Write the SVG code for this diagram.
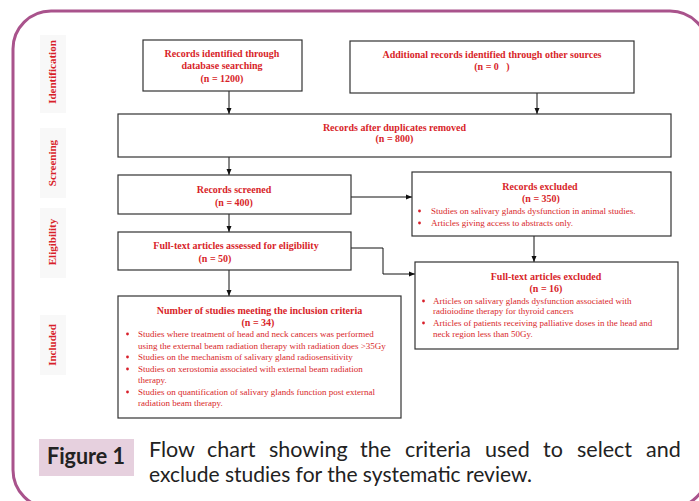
<svg xmlns="http://www.w3.org/2000/svg" width="699" height="501" viewBox="0 0 699 501">
<defs>
<marker id="ah" markerWidth="6" markerHeight="6" refX="6" refY="3" orient="auto" markerUnits="userSpaceOnUse">
<path d="M0,0.5 L6,3 L0,5.5 z" fill="#111"/>
</marker>
<style>
.box{fill:#fff;stroke:#333;stroke-width:1.2}
.t{font-family:"Liberation Serif","Times New Roman",serif;font-weight:bold;font-size:10px;fill:#d81f2a;text-anchor:middle}
.b{font-family:"Liberation Serif","Times New Roman",serif;font-size:9px;fill:#d81f2a}
.side{font-family:"Liberation Serif","Times New Roman",serif;font-weight:bold;font-size:11px;fill:#d81f2a;text-anchor:middle}
.sbg{fill:#f8f8f8}
.dot{fill:#d81f2a}
.c{stroke:#111;stroke-width:1;fill:none}
.cap{font-family:Lato,"Liberation Sans",Arial,sans-serif;font-size:21.5px;fill:#222}
</style>
</defs>
<rect width="699" height="501" fill="#fff"/>
<rect x="13" y="11" width="695" height="497" rx="38" ry="38" fill="none" stroke="#a9538c" stroke-width="3"/>

<g id="side-labels">
<rect class="sbg" x="40" y="35" width="26" height="78"/>
<text class="side" transform="translate(56,72) rotate(-90)">Identification</text>
<rect class="sbg" x="40" y="128" width="26" height="70"/>
<text class="side" transform="translate(56,163) rotate(-90)">Screening</text>
<rect class="sbg" x="40" y="208" width="26" height="70"/>
<text class="side" transform="translate(56,242) rotate(-90)">Eligibility</text>
<rect class="sbg" x="40" y="315" width="26" height="60"/>
<text class="side" transform="translate(56,345) rotate(-90)">Included</text>
</g>

<g id="connectors">
<line class="c" x1="229" y1="91" x2="229" y2="114" marker-end="url(#ah)"/>
<line class="c" x1="537" y1="93" x2="537" y2="114" marker-end="url(#ah)"/>
<line class="c" x1="229" y1="157" x2="229" y2="175" marker-end="url(#ah)"/>
<line class="c" x1="229" y1="214" x2="229" y2="232" marker-end="url(#ah)"/>
<line class="c" x1="351" y1="197" x2="412" y2="197" marker-end="url(#ah)"/>
<line class="c" x1="534" y1="236" x2="534" y2="262" marker-end="url(#ah)"/>
<polyline class="c" points="351,248 383,248 383,274 415,274" marker-end="url(#ah)"/>
<line class="c" x1="229" y1="270" x2="229" y2="296" marker-end="url(#ah)"/>
</g>

<g id="n1">
<rect class="box" x="143" y="40" width="159" height="51"/>
<text class="t" x="222" y="56.5">Records identified through</text>
<text class="t" x="222" y="69">database searching</text>
<text class="t" x="222" y="81.5">(n = 1200)</text>
</g>
<g id="n2">
<rect class="box" x="350" y="41" width="284" height="52"/>
<text class="t" x="492" y="57.5">Additional records identified through other sources</text>
<text class="t" x="492" y="69.5" style="white-space:pre">(n = 0   )</text>
</g>
<g id="n3">
<rect class="box" x="118" y="114" width="553" height="43"/>
<text class="t" x="394.5" y="130.5">Records after duplicates removed</text>
<text class="t" x="394.5" y="141.5">(n = 800)</text>
</g>
<g id="n4">
<rect class="box" x="118" y="175" width="233" height="39"/>
<text class="t" x="234" y="192.5">Records screened</text>
<text class="t" x="234" y="205.5">(n = 400)</text>
</g>
<g id="n5">
<rect class="box" x="118" y="232" width="233" height="38"/>
<text class="t" x="236" y="248.5">Full-text articles assessed for eligibility</text>
<text class="t" x="215" y="261.5">(n = 50)</text>
</g>
<g id="n6">
<rect class="box" x="412" y="172" width="259" height="64"/>
<text class="t" x="540" y="189.5">Records excluded</text>
<text class="t" x="541" y="201.5">(n = 350)</text>
<circle class="dot" cx="419.5" cy="211" r="1.4"/>
<text class="b" x="431" y="214">Studies on salivary glands dysfunction in animal studies.</text>
<circle class="dot" cx="419.5" cy="223" r="1.4"/>
<text class="b" x="431" y="226">Articles giving access to abstracts only.</text>
</g>
<g id="n7">
<rect class="box" x="415" y="262" width="263" height="87"/>
<text class="t" x="546" y="279.5">Full-text articles excluded</text>
<text class="t" x="546" y="291.5">(n = 16)</text>
<circle class="dot" cx="423.5" cy="301" r="1.4"/>
<text class="b" x="433" y="304">Articles on salivary glands dysfunction associated with</text>
<text class="b" x="433" y="314">radioiodine therapy for thyroid cancers</text>
<circle class="dot" cx="423.5" cy="323" r="1.4"/>
<text class="b" x="433" y="326">Articles of patients receiving palliative doses in the head and</text>
<text class="b" x="433" y="337">neck region less than 50Gy.</text>
</g>
<g id="n8">
<rect class="box" x="118" y="296" width="283" height="122"/>
<text class="t" x="259.5" y="313.5">Number of studies meeting the inclusion criteria</text>
<text class="t" x="258" y="325.5">(n = 34)</text>
<circle class="dot" cx="127.5" cy="334" r="1.4"/>
<text class="b" x="138" y="337">Studies where treatment of head and neck cancers was performed</text>
<text class="b" x="138" y="349">using the external beam radiation therapy with radiation does &gt;35Gy</text>
<circle class="dot" cx="127.5" cy="357" r="1.4"/>
<text class="b" x="138" y="360">Studies on the mechanism of salivary gland radiosensitivity</text>
<circle class="dot" cx="127.5" cy="369" r="1.4"/>
<text class="b" x="138" y="372">Studies on xerostomia associated with external beam radiation</text>
<text class="b" x="138" y="383">therapy.</text>
<circle class="dot" cx="127.5" cy="392" r="1.4"/>
<text class="b" x="138" y="395">Studies on quantification of salivary glands function post external</text>
<text class="b" x="138" y="406">radiation beam therapy.</text>
</g>

<g id="caption">
<rect x="39" y="439" width="95" height="37" fill="#e6d0de"/>
<text x="47" y="464" style="font-family:Lato,'Liberation Sans',Arial,sans-serif;font-weight:bold;font-size:22px;fill:#222" textLength="78" lengthAdjust="spacingAndGlyphs">Figure 1</text>
<text class="cap" y="457"><tspan x="149">Flow</tspan> <tspan x="207">chart</tspan> <tspan x="269">showing</tspan> <tspan x="360">the</tspan> <tspan x="405">criteria</tspan> <tspan x="485">used</tspan> <tspan x="543">to</tspan> <tspan x="577">select</tspan> <tspan x="646">and</tspan></text>
<text class="cap" x="149" y="482" textLength="383" lengthAdjust="spacingAndGlyphs">exclude studies for the systematic review.</text>
</g>
</svg>
